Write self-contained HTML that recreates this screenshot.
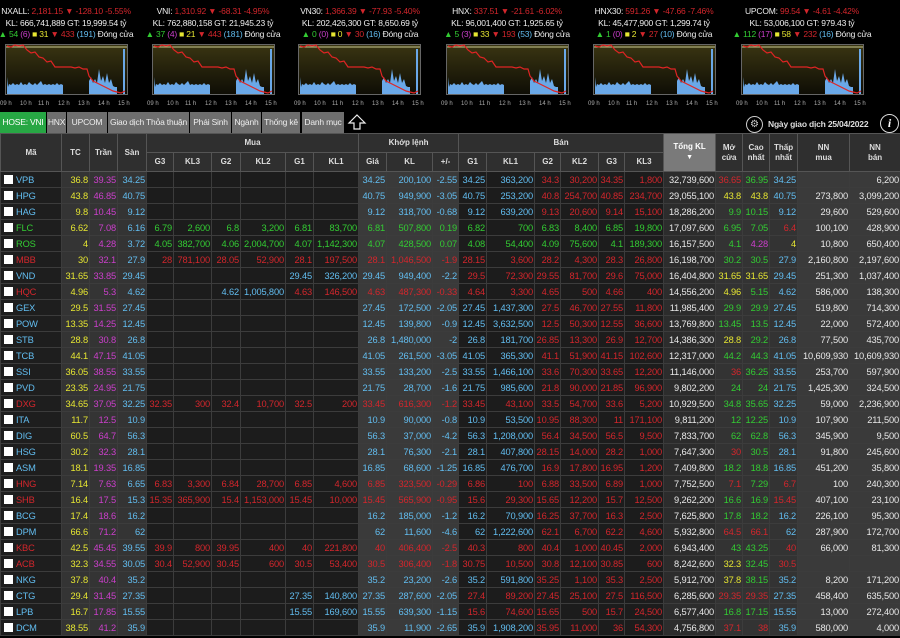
<!DOCTYPE html>
<html><head><meta charset="utf-8">
<style>
*{margin:0;padding:0;box-sizing:border-box}
body{width:900px;height:638px;background:#000;overflow:hidden;font-family:"Liberation Sans",Arial,sans-serif;color:#ddd;position:relative}
.ix{position:absolute;top:6px;width:150px;text-align:center;font-size:8.5px;line-height:11.5px;color:#eee;white-space:nowrap;letter-spacing:-0.2px}
.r{color:#d3262c}.b{color:#62bdf0}.g{color:#33cc33}.y{color:#e6e632}.p{color:#cc3fcc}.w{color:#e8e8e8}
svg.ch{position:absolute;top:43px}
.tabs{position:absolute;top:112px;left:0;height:21px;font-size:8.5px;letter-spacing:-0.2px}
.tab{position:absolute;top:0;height:21px;line-height:21px;background:#6e6e6e;color:#eee;text-align:center;white-space:nowrap;overflow:hidden}
table{position:absolute;top:133px;left:0;width:900px;border-collapse:collapse;table-layout:fixed;font-size:9.3px;letter-spacing:-0.15px}
th{background:#2f2f2f;color:#ddd;font-size:8px;font-weight:bold;border:1px solid #555;height:19px;text-align:center;line-height:10px;letter-spacing:0}
td{border:1px solid #3c3c3c;height:16px;text-align:right;padding:0 1px;white-space:nowrap;overflow:hidden;line-height:14px}
td.m{text-align:left;padding-left:3px}
td.m i{display:inline-block;width:9px;height:9px;background:#fff;vertical-align:-1px;margin-right:3px}
</style></head><body>

<div class="ix" style="left:-9px">NXALL: <span class="r">2,181.15 ▼ -128.10 -5.55%</span><br>KL: 666,741,889 GT: 19,999.54 tỷ<br><span class="g">▲ 54</span> <span class="p">(6)</span> <span class="y">■ 31</span> <span class="r">▼ 433</span> <span class="b">(191)</span> Đóng cửa</div>
<div class="ix" style="left:138px">VNI: <span class="r">1,310.92 ▼ -68.31 -4.95%</span><br>KL: 762,880,158 GT: 21,945.23 tỷ<br><span class="g">▲ 37</span> <span class="p">(4)</span> <span class="y">■ 21</span> <span class="r">▼ 443</span> <span class="b">(181)</span> Đóng cửa</div>
<div class="ix" style="left:285px">VN30: <span class="r">1,366.39 ▼ -77.93 -5.40%</span><br>KL: 202,426,300 GT: 8,650.69 tỷ<br><span class="g">▲ 0</span> <span class="p">(0)</span> <span class="y">■ 0</span> <span class="r">▼ 30</span> <span class="b">(16)</span> Đóng cửa</div>
<div class="ix" style="left:432px">HNX: <span class="r">337.51 ▼ -21.61 -6.02%</span><br>KL: 96,001,400 GT: 1,925.65 tỷ<br><span class="g">▲ 5</span> <span class="p">(3)</span> <span class="y">■ 33</span> <span class="r">▼ 193</span> <span class="b">(53)</span> Đóng cửa</div>
<div class="ix" style="left:579px">HNX30: <span class="r">591.26 ▼ -47.66 -7.46%</span><br>KL: 45,477,900 GT: 1,299.74 tỷ<br><span class="g">▲ 1</span> <span class="p">(0)</span> <span class="y">■ 2</span> <span class="r">▼ 27</span> <span class="b">(10)</span> Đóng cửa</div>
<div class="ix" style="left:727px">UPCOM: <span class="r">99.54 ▼ -4.61 -4.42%</span><br>KL: 53,006,100 GT: 979.43 tỷ<br><span class="g">▲ 112</span> <span class="p">(17)</span> <span class="y">■ 58</span> <span class="r">▼ 232</span> <span class="b">(16)</span> Đóng cửa</div>

<svg width="0" height="0" style="position:absolute"><defs>
<linearGradient id="gb" x1="0" y1="0" x2="0" y2="1"><stop offset="0" stop-color="#3a3512"/><stop offset="1" stop-color="#0e0d05"/></linearGradient>
<g id="c">
<rect x="0.5" y="1.5" width="122" height="50" fill="url(#gb)" stroke="#666" stroke-width="1"/>
<line x1="1" y1="4" x2="122" y2="4" stroke="#c8c890" stroke-width="1"/>
<path d="M2,44 L2,34 3,44 4,41 6,42 8,40 10,42 12,41 14,42 16,39 18,42 20,41 22,42 24,39 26,41 28,42 30,40 32,42 34,40 36,38 38,42 40,41 42,42 44,41 46,42 48,41 50,42 52,40 54,42 56,41 58,42 L58,51 2,51Z M84,51 L84,38 86,34 88,40 90,36 92,40 94,26 96,38 98,33 100,40 102,30 104,40 106,36 108,43 110,44 112,44 112,51Z M118,51 L118,6 120,6 120,51Z" fill="#6aa8e8"/>
<path d="M2,3 L6,4 10,2 14,3 18,2 22,7 26,10 30,9 34,14 38,15 42,19 46,18 50,24 54,24 58,24 62,24 66,24 70,25 74,24 78,26 82,26 84,33 88,38 92,40 96,42 100,44 104,46 108,48 112,49 116,50 120,48" fill="none" stroke="#e02424" stroke-width="1.2"/>
</g></defs></svg>

<svg class="ch" width="900" height="66" style="left:0">
<use href="#c" x="5"/><use href="#c" x="152"/><use href="#c" x="298"/><use href="#c" x="446"/><use href="#c" x="593"/><use href="#c" x="741"/>
<g font-size="6" fill="#aaa" font-family="Liberation Sans">
<text x="0" y="62">09 h</text><text x="20" y="62">10 h</text><text x="38" y="62">11 h</text><text x="58" y="62">12 h</text><text x="78" y="62">13 h</text><text x="98" y="62">14 h</text><text x="118" y="62">15 h</text>
<text x="147" y="62">09 h</text><text x="167" y="62">10 h</text><text x="185" y="62">11 h</text><text x="205" y="62">12 h</text><text x="225" y="62">13 h</text><text x="245" y="62">14 h</text><text x="265" y="62">15 h</text>
<text x="294" y="62">09 h</text><text x="314" y="62">10 h</text><text x="332" y="62">11 h</text><text x="352" y="62">12 h</text><text x="372" y="62">13 h</text><text x="392" y="62">14 h</text><text x="412" y="62">15 h</text>
<text x="441" y="62">09 h</text><text x="461" y="62">10 h</text><text x="479" y="62">11 h</text><text x="499" y="62">12 h</text><text x="519" y="62">13 h</text><text x="539" y="62">14 h</text><text x="559" y="62">15 h</text>
<text x="588" y="62">09 h</text><text x="608" y="62">10 h</text><text x="626" y="62">11 h</text><text x="646" y="62">12 h</text><text x="666" y="62">13 h</text><text x="686" y="62">14 h</text><text x="706" y="62">15 h</text>
<text x="736" y="62">09 h</text><text x="756" y="62">10 h</text><text x="774" y="62">11 h</text><text x="794" y="62">12 h</text><text x="814" y="62">13 h</text><text x="834" y="62">14 h</text><text x="854" y="62">15 h</text>
</g></svg>

<div class="tabs">
<div class="tab" style="left:0;width:46px;background:#27a744;color:#fff">HOSE: VNI</div>
<div class="tab" style="left:47px;width:19px">HNX</div>
<div class="tab" style="left:67px;width:40px">UPCOM</div>
<div class="tab" style="left:108px;width:81px">Giao dịch Thỏa thuận</div>
<div class="tab" style="left:190px;width:41px">Phái Sinh</div>
<div class="tab" style="left:232px;width:29px">Ngành</div>
<div class="tab" style="left:262px;width:38px">Thống kê</div>
<div class="tab" style="left:302px;width:42px">Danh mục</div>
</div>
<svg style="position:absolute;left:347px;top:114px" width="20" height="16"><path d="M10,1 L18,9 L13,9 L13,15 L7,15 L7,9 L2,9Z" fill="none" stroke="#eee" stroke-width="1.2"/></svg>
<div style="position:absolute;left:746px;top:116px;width:17px;height:17px;border:1px solid #ccc;border-radius:50%;color:#ccc;font-size:10px;text-align:center;line-height:15px">⚙</div>
<div style="position:absolute;left:768px;top:119px;font-size:8.5px;font-weight:bold;color:#ddd;letter-spacing:-0.2px">Ngày giao dịch 25/04/2022</div>
<div style="position:absolute;left:880px;top:114px;width:19px;height:19px;border:1.5px solid #ddd;border-radius:50%;color:#fff;font:italic bold 12px 'Liberation Serif',serif;text-align:center;line-height:17px">i</div>

<table>
<colgroup>
<col style="width:61px;background:#1e1e1e"><col style="width:28px;background:#343434"><col style="width:28px;background:#343434"><col style="width:29px;background:#343434">
<col style="width:27px;background:#1c1c1c"><col style="width:38px;background:#1c1c1c"><col style="width:29px;background:#1c1c1c"><col style="width:45px;background:#1c1c1c"><col style="width:28px;background:#1c1c1c"><col style="width:45px;background:#1c1c1c">
<col style="width:28px;background:#3a3a3a"><col style="width:46px;background:#3a3a3a"><col style="width:26px;background:#3a3a3a">
<col style="width:28px;background:#1c1c1c"><col style="width:48px;background:#1c1c1c"><col style="width:26px;background:#1c1c1c"><col style="width:38px;background:#1c1c1c"><col style="width:26px;background:#1c1c1c"><col style="width:39px;background:#1c1c1c">
<col style="width:52px;background:#2c2c2c"><col style="width:27px;background:#333"><col style="width:27px;background:#333"><col style="width:28px;background:#333"><col style="width:52px;background:#3a3a3a"><col style="width:51px;background:#3a3a3a">
</colgroup>
<tr><th rowspan="2">Mã</th><th rowspan="2">TC</th><th rowspan="2">Trần</th><th rowspan="2">Sàn</th><th colspan="6">Mua</th><th colspan="3">Khớp lệnh</th><th colspan="6">Bán</th><th rowspan="2" style="background:#7a7a7a;color:#fff">Tổng KL<br><span style="font-size:7px">▼</span></th><th rowspan="2">Mở<br>cửa</th><th rowspan="2">Cao<br>nhất</th><th rowspan="2">Thấp<br>nhất</th><th rowspan="2">NN<br>mua</th><th rowspan="2">NN<br>bán</th></tr>
<tr><th>G3</th><th>KL3</th><th>G2</th><th>KL2</th><th>G1</th><th>KL1</th><th>Giá</th><th>KL</th><th>+/-</th><th>G1</th><th>KL1</th><th>G2</th><th>KL2</th><th>G3</th><th>KL3</th></tr>

<tr><td class="m b"><i></i>VPB</td><td class="y">36.8</td><td class="p">39.35</td><td class="b">34.25</td><td></td><td></td><td></td><td></td><td></td><td></td><td class="b">34.25</td><td class="b">200,100</td><td class="b">-2.55</td><td class="b">34.25</td><td class="b">363,200</td><td class="r">34.3</td><td class="r">30,200</td><td class="r">34.35</td><td class="r">1,800</td><td class="w">32,739,600</td><td class="r">36.65</td><td class="g">36.95</td><td class="b">34.25</td><td class="w"></td><td class="w">6,200</td></tr>
<tr><td class="m b"><i></i>HPG</td><td class="y">43.8</td><td class="p">46.85</td><td class="b">40.75</td><td></td><td></td><td></td><td></td><td></td><td></td><td class="b">40.75</td><td class="b">949,900</td><td class="b">-3.05</td><td class="b">40.75</td><td class="b">253,200</td><td class="r">40.8</td><td class="r">254,700</td><td class="r">40.85</td><td class="r">234,700</td><td class="w">29,055,100</td><td class="y">43.8</td><td class="y">43.8</td><td class="b">40.75</td><td class="w">273,800</td><td class="w">3,099,200</td></tr>
<tr><td class="m b"><i></i>HAG</td><td class="y">9.8</td><td class="p">10.45</td><td class="b">9.12</td><td></td><td></td><td></td><td></td><td></td><td></td><td class="b">9.12</td><td class="b">318,700</td><td class="b">-0.68</td><td class="b">9.12</td><td class="b">639,200</td><td class="r">9.13</td><td class="r">20,600</td><td class="r">9.14</td><td class="r">15,100</td><td class="w">18,286,200</td><td class="g">9.9</td><td class="g">10.15</td><td class="b">9.12</td><td class="w">29,600</td><td class="w">529,600</td></tr>
<tr><td class="m g"><i></i>FLC</td><td class="y">6.62</td><td class="p">7.08</td><td class="b">6.16</td><td class="g">6.79</td><td class="g">2,600</td><td class="g">6.8</td><td class="g">3,200</td><td class="g">6.81</td><td class="g">83,700</td><td class="g">6.81</td><td class="g">507,800</td><td class="g">0.19</td><td class="g">6.82</td><td class="g">700</td><td class="g">6.83</td><td class="g">8,400</td><td class="g">6.85</td><td class="g">19,800</td><td class="w">17,097,600</td><td class="g">6.95</td><td class="g">7.05</td><td class="r">6.4</td><td class="w">100,100</td><td class="w">428,900</td></tr>
<tr><td class="m g"><i></i>ROS</td><td class="y">4</td><td class="p">4.28</td><td class="b">3.72</td><td class="g">4.05</td><td class="g">382,700</td><td class="g">4.06</td><td class="g">2,004,700</td><td class="g">4.07</td><td class="g">1,142,300</td><td class="g">4.07</td><td class="g">428,500</td><td class="g">0.07</td><td class="g">4.08</td><td class="g">54,400</td><td class="g">4.09</td><td class="g">75,600</td><td class="g">4.1</td><td class="g">189,300</td><td class="w">16,157,500</td><td class="g">4.1</td><td class="p">4.28</td><td class="y">4</td><td class="w">10,800</td><td class="w">650,400</td></tr>
<tr><td class="m r"><i></i>MBB</td><td class="y">30</td><td class="p">32.1</td><td class="b">27.9</td><td class="r">28</td><td class="r">781,100</td><td class="r">28.05</td><td class="r">52,900</td><td class="r">28.1</td><td class="r">197,500</td><td class="r">28.1</td><td class="r">1,046,500</td><td class="r">-1.9</td><td class="r">28.15</td><td class="r">3,600</td><td class="r">28.2</td><td class="r">4,300</td><td class="r">28.3</td><td class="r">26,800</td><td class="w">16,198,700</td><td class="g">30.2</td><td class="g">30.5</td><td class="b">27.9</td><td class="w">2,160,800</td><td class="w">2,197,600</td></tr>
<tr><td class="m b"><i></i>VND</td><td class="y">31.65</td><td class="p">33.85</td><td class="b">29.45</td><td></td><td></td><td></td><td></td><td class="b">29.45</td><td class="b">326,200</td><td class="b">29.45</td><td class="b">949,400</td><td class="b">-2.2</td><td class="r">29.5</td><td class="r">72,300</td><td class="r">29.55</td><td class="r">81,700</td><td class="r">29.6</td><td class="r">75,000</td><td class="w">16,404,800</td><td class="y">31.65</td><td class="y">31.65</td><td class="b">29.45</td><td class="w">251,300</td><td class="w">1,037,400</td></tr>
<tr><td class="m r"><i></i>HQC</td><td class="y">4.96</td><td class="p">5.3</td><td class="b">4.62</td><td></td><td></td><td class="b">4.62</td><td class="b">1,005,800</td><td class="r">4.63</td><td class="r">146,500</td><td class="r">4.63</td><td class="r">487,300</td><td class="r">-0.33</td><td class="r">4.64</td><td class="r">3,300</td><td class="r">4.65</td><td class="r">500</td><td class="r">4.66</td><td class="r">400</td><td class="w">14,556,200</td><td class="y">4.96</td><td class="g">5.15</td><td class="b">4.62</td><td class="w">586,000</td><td class="w">138,300</td></tr>
<tr><td class="m b"><i></i>GEX</td><td class="y">29.5</td><td class="p">31.55</td><td class="b">27.45</td><td></td><td></td><td></td><td></td><td></td><td></td><td class="b">27.45</td><td class="b">172,500</td><td class="b">-2.05</td><td class="b">27.45</td><td class="b">1,437,300</td><td class="r">27.5</td><td class="r">46,700</td><td class="r">27.55</td><td class="r">11,800</td><td class="w">11,985,400</td><td class="g">29.9</td><td class="g">29.9</td><td class="b">27.45</td><td class="w">519,800</td><td class="w">714,300</td></tr>
<tr><td class="m b"><i></i>POW</td><td class="y">13.35</td><td class="p">14.25</td><td class="b">12.45</td><td></td><td></td><td></td><td></td><td></td><td></td><td class="b">12.45</td><td class="b">139,800</td><td class="b">-0.9</td><td class="b">12.45</td><td class="b">3,632,500</td><td class="r">12.5</td><td class="r">50,300</td><td class="r">12.55</td><td class="r">36,600</td><td class="w">13,769,800</td><td class="g">13.45</td><td class="g">13.5</td><td class="b">12.45</td><td class="w">22,000</td><td class="w">572,400</td></tr>
<tr><td class="m b"><i></i>STB</td><td class="y">28.8</td><td class="p">30.8</td><td class="b">26.8</td><td></td><td></td><td></td><td></td><td></td><td></td><td class="b">26.8</td><td class="b">1,480,000</td><td class="b">-2</td><td class="b">26.8</td><td class="b">181,700</td><td class="r">26.85</td><td class="r">13,300</td><td class="r">26.9</td><td class="r">12,700</td><td class="w">14,386,300</td><td class="y">28.8</td><td class="g">29.2</td><td class="b">26.8</td><td class="w">77,500</td><td class="w">435,700</td></tr>
<tr><td class="m b"><i></i>TCB</td><td class="y">44.1</td><td class="p">47.15</td><td class="b">41.05</td><td></td><td></td><td></td><td></td><td></td><td></td><td class="b">41.05</td><td class="b">261,500</td><td class="b">-3.05</td><td class="b">41.05</td><td class="b">365,300</td><td class="r">41.1</td><td class="r">51,900</td><td class="r">41.15</td><td class="r">102,600</td><td class="w">12,317,000</td><td class="g">44.2</td><td class="g">44.3</td><td class="b">41.05</td><td class="w">10,609,930</td><td class="w">10,609,930</td></tr>
<tr><td class="m b"><i></i>SSI</td><td class="y">36.05</td><td class="p">38.55</td><td class="b">33.55</td><td></td><td></td><td></td><td></td><td></td><td></td><td class="b">33.55</td><td class="b">133,200</td><td class="b">-2.5</td><td class="b">33.55</td><td class="b">1,466,100</td><td class="r">33.6</td><td class="r">70,300</td><td class="r">33.65</td><td class="r">12,200</td><td class="w">11,146,000</td><td class="r">36</td><td class="g">36.25</td><td class="b">33.55</td><td class="w">253,700</td><td class="w">597,900</td></tr>
<tr><td class="m b"><i></i>PVD</td><td class="y">23.35</td><td class="p">24.95</td><td class="b">21.75</td><td></td><td></td><td></td><td></td><td></td><td></td><td class="b">21.75</td><td class="b">28,700</td><td class="b">-1.6</td><td class="b">21.75</td><td class="b">985,600</td><td class="r">21.8</td><td class="r">90,000</td><td class="r">21.85</td><td class="r">96,900</td><td class="w">9,802,200</td><td class="g">24</td><td class="g">24</td><td class="b">21.75</td><td class="w">1,425,300</td><td class="w">324,500</td></tr>
<tr><td class="m r"><i></i>DXG</td><td class="y">34.65</td><td class="p">37.05</td><td class="b">32.25</td><td class="r">32.35</td><td class="r">300</td><td class="r">32.4</td><td class="r">10,700</td><td class="r">32.5</td><td class="r">200</td><td class="r">33.45</td><td class="r">616,300</td><td class="r">-1.2</td><td class="r">33.45</td><td class="r">43,100</td><td class="r">33.5</td><td class="r">54,700</td><td class="r">33.6</td><td class="r">5,200</td><td class="w">10,929,500</td><td class="g">34.8</td><td class="g">35.65</td><td class="b">32.25</td><td class="w">59,000</td><td class="w">2,236,900</td></tr>
<tr><td class="m b"><i></i>ITA</td><td class="y">11.7</td><td class="p">12.5</td><td class="b">10.9</td><td></td><td></td><td></td><td></td><td></td><td></td><td class="b">10.9</td><td class="b">90,000</td><td class="b">-0.8</td><td class="b">10.9</td><td class="b">53,500</td><td class="r">10.95</td><td class="r">88,300</td><td class="r">11</td><td class="r">171,100</td><td class="w">9,811,200</td><td class="g">12</td><td class="g">12.25</td><td class="b">10.9</td><td class="w">107,900</td><td class="w">211,500</td></tr>
<tr><td class="m b"><i></i>DIG</td><td class="y">60.5</td><td class="p">64.7</td><td class="b">56.3</td><td></td><td></td><td></td><td></td><td></td><td></td><td class="b">56.3</td><td class="b">37,000</td><td class="b">-4.2</td><td class="b">56.3</td><td class="b">1,208,000</td><td class="r">56.4</td><td class="r">34,500</td><td class="r">56.5</td><td class="r">9,500</td><td class="w">7,833,700</td><td class="g">62</td><td class="g">62.8</td><td class="b">56.3</td><td class="w">345,900</td><td class="w">9,500</td></tr>
<tr><td class="m b"><i></i>HSG</td><td class="y">30.2</td><td class="p">32.3</td><td class="b">28.1</td><td></td><td></td><td></td><td></td><td></td><td></td><td class="b">28.1</td><td class="b">76,300</td><td class="b">-2.1</td><td class="b">28.1</td><td class="b">407,800</td><td class="r">28.15</td><td class="r">14,000</td><td class="r">28.2</td><td class="r">1,000</td><td class="w">7,647,300</td><td class="r">30</td><td class="g">30.5</td><td class="b">28.1</td><td class="w">91,800</td><td class="w">245,600</td></tr>
<tr><td class="m b"><i></i>ASM</td><td class="y">18.1</td><td class="p">19.35</td><td class="b">16.85</td><td></td><td></td><td></td><td></td><td></td><td></td><td class="b">16.85</td><td class="b">68,600</td><td class="b">-1.25</td><td class="b">16.85</td><td class="b">476,700</td><td class="r">16.9</td><td class="r">17,800</td><td class="r">16.95</td><td class="r">1,200</td><td class="w">7,409,800</td><td class="g">18.2</td><td class="g">18.8</td><td class="b">16.85</td><td class="w">451,200</td><td class="w">35,800</td></tr>
<tr><td class="m r"><i></i>HNG</td><td class="y">7.14</td><td class="p">7.63</td><td class="b">6.65</td><td class="r">6.83</td><td class="r">3,300</td><td class="r">6.84</td><td class="r">28,700</td><td class="r">6.85</td><td class="r">4,600</td><td class="r">6.85</td><td class="r">323,500</td><td class="r">-0.29</td><td class="r">6.86</td><td class="r">100</td><td class="r">6.88</td><td class="r">33,500</td><td class="r">6.89</td><td class="r">1,000</td><td class="w">7,752,500</td><td class="r">7.1</td><td class="g">7.29</td><td class="r">6.7</td><td class="w">100</td><td class="w">240,300</td></tr>
<tr><td class="m r"><i></i>SHB</td><td class="y">16.4</td><td class="p">17.5</td><td class="b">15.3</td><td class="r">15.35</td><td class="r">365,900</td><td class="r">15.4</td><td class="r">1,153,000</td><td class="r">15.45</td><td class="r">10,000</td><td class="r">15.45</td><td class="r">565,900</td><td class="r">-0.95</td><td class="r">15.6</td><td class="r">29,300</td><td class="r">15.65</td><td class="r">12,200</td><td class="r">15.7</td><td class="r">12,500</td><td class="w">9,262,200</td><td class="g">16.6</td><td class="g">16.9</td><td class="r">15.45</td><td class="w">407,100</td><td class="w">23,100</td></tr>
<tr><td class="m b"><i></i>BCG</td><td class="y">17.4</td><td class="p">18.6</td><td class="b">16.2</td><td></td><td></td><td></td><td></td><td></td><td></td><td class="b">16.2</td><td class="b">185,000</td><td class="b">-1.2</td><td class="b">16.2</td><td class="b">70,900</td><td class="r">16.25</td><td class="r">37,700</td><td class="r">16.3</td><td class="r">2,500</td><td class="w">7,625,800</td><td class="g">17.8</td><td class="g">18.2</td><td class="b">16.2</td><td class="w">226,100</td><td class="w">95,300</td></tr>
<tr><td class="m b"><i></i>DPM</td><td class="y">66.6</td><td class="p">71.2</td><td class="b">62</td><td></td><td></td><td></td><td></td><td></td><td></td><td class="b">62</td><td class="b">11,600</td><td class="b">-4.6</td><td class="b">62</td><td class="b">1,222,600</td><td class="r">62.1</td><td class="r">6,700</td><td class="r">62.2</td><td class="r">4,600</td><td class="w">5,932,800</td><td class="r">64.5</td><td class="r">66.1</td><td class="b">62</td><td class="w">287,900</td><td class="w">172,700</td></tr>
<tr><td class="m r"><i></i>KBC</td><td class="y">42.5</td><td class="p">45.45</td><td class="b">39.55</td><td class="r">39.9</td><td class="r">800</td><td class="r">39.95</td><td class="r">400</td><td class="r">40</td><td class="r">221,800</td><td class="r">40</td><td class="r">406,400</td><td class="r">-2.5</td><td class="r">40.3</td><td class="r">800</td><td class="r">40.4</td><td class="r">1,000</td><td class="r">40.45</td><td class="r">2,000</td><td class="w">6,943,400</td><td class="g">43</td><td class="g">43.25</td><td class="r">40</td><td class="w">66,000</td><td class="w">81,300</td></tr>
<tr><td class="m r"><i></i>ACB</td><td class="y">32.3</td><td class="p">34.55</td><td class="b">30.05</td><td class="r">30.4</td><td class="r">52,900</td><td class="r">30.45</td><td class="r">600</td><td class="r">30.5</td><td class="r">53,400</td><td class="r">30.5</td><td class="r">306,400</td><td class="r">-1.8</td><td class="r">30.75</td><td class="r">10,500</td><td class="r">30.8</td><td class="r">12,100</td><td class="r">30.85</td><td class="r">600</td><td class="w">8,242,600</td><td class="y">32.3</td><td class="g">32.45</td><td class="r">30.5</td><td class="w"></td><td class="w"></td></tr>
<tr><td class="m b"><i></i>NKG</td><td class="y">37.8</td><td class="p">40.4</td><td class="b">35.2</td><td></td><td></td><td></td><td></td><td></td><td></td><td class="b">35.2</td><td class="b">23,200</td><td class="b">-2.6</td><td class="b">35.2</td><td class="b">591,800</td><td class="r">35.25</td><td class="r">1,100</td><td class="r">35.3</td><td class="r">2,500</td><td class="w">5,912,700</td><td class="y">37.8</td><td class="g">38.15</td><td class="b">35.2</td><td class="w">8,200</td><td class="w">171,200</td></tr>
<tr><td class="m b"><i></i>CTG</td><td class="y">29.4</td><td class="p">31.45</td><td class="b">27.35</td><td></td><td></td><td></td><td></td><td class="b">27.35</td><td class="b">140,800</td><td class="b">27.35</td><td class="b">287,600</td><td class="b">-2.05</td><td class="r">27.4</td><td class="r">89,200</td><td class="r">27.45</td><td class="r">25,100</td><td class="r">27.5</td><td class="r">116,500</td><td class="w">6,285,600</td><td class="r">29.35</td><td class="r">29.35</td><td class="b">27.35</td><td class="w">458,400</td><td class="w">635,500</td></tr>
<tr><td class="m b"><i></i>LPB</td><td class="y">16.7</td><td class="p">17.85</td><td class="b">15.55</td><td></td><td></td><td></td><td></td><td class="b">15.55</td><td class="b">169,600</td><td class="b">15.55</td><td class="b">639,300</td><td class="b">-1.15</td><td class="r">15.6</td><td class="r">74,600</td><td class="r">15.65</td><td class="r">500</td><td class="r">15.7</td><td class="r">24,500</td><td class="w">6,577,400</td><td class="g">16.8</td><td class="g">17.15</td><td class="b">15.55</td><td class="w">13,000</td><td class="w">272,400</td></tr>
<tr><td class="m b"><i></i>DCM</td><td class="y">38.55</td><td class="p">41.2</td><td class="b">35.9</td><td></td><td></td><td></td><td></td><td></td><td></td><td class="b">35.9</td><td class="b">11,900</td><td class="b">-2.65</td><td class="b">35.9</td><td class="b">1,908,200</td><td class="r">35.95</td><td class="r">11,000</td><td class="r">36</td><td class="r">54,300</td><td class="w">4,756,800</td><td class="r">37.1</td><td class="r">38</td><td class="b">35.9</td><td class="w">580,000</td><td class="w">4,000</td></tr>
</table>
</body></html>
